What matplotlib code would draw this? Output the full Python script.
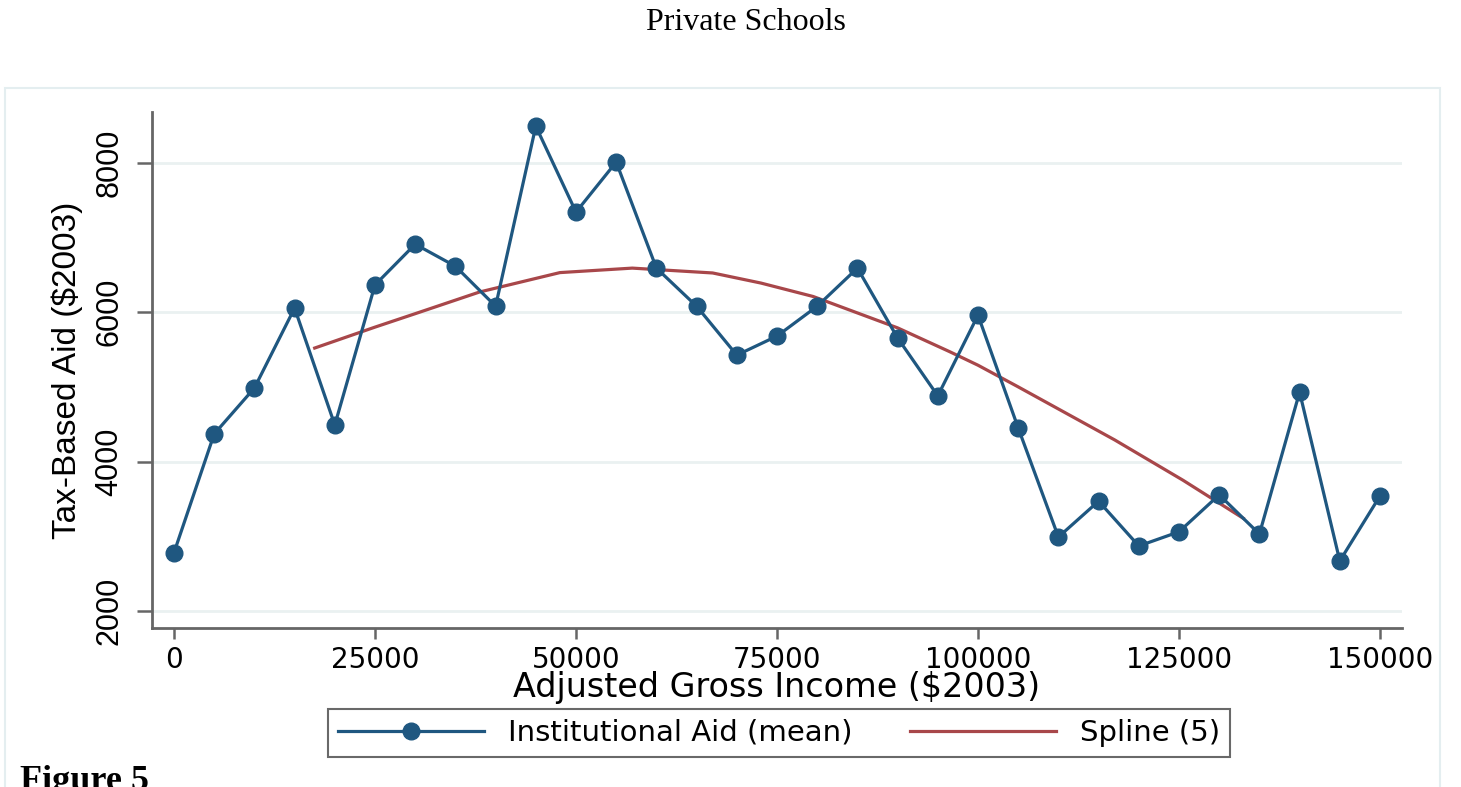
import matplotlib
matplotlib.use("Agg")
import matplotlib.pyplot as plt
from matplotlib.patches import Rectangle

# data
income = [0, 5000, 10000, 15000, 20000, 25000, 30000, 35000, 40000, 45000,
          50000, 55000, 60000, 65000, 70000, 75000, 80000, 85000, 90000, 95000,
          100000, 105000, 110000, 115000, 120000, 125000, 130000, 135000,
          140000, 145000, 150000]
aid_mean = [2780, 4370, 4985, 6055, 4490, 6365, 6910, 6615, 6080, 8490,
            7340, 8010, 6590, 6080, 5425, 5680, 6080, 6590, 5655, 4880,
            5960, 4450, 2990, 3470, 2870, 3060, 3555, 3030,
            4930, 2670, 3540]

spline_x = [17500, 25000, 30000, 38000, 48000, 57000, 67000, 73000, 79500,
            90000, 96500, 100000, 105000, 117000, 125500, 133000]
spline_y = [5520, 5800, 5980, 6270, 6530, 6590, 6525, 6390, 6210,
            5790, 5470, 5290, 5000, 4290, 3750, 3240]

x_ticks = [0, 25000, 50000, 75000, 100000, 125000, 150000]
y_ticks = [2000, 4000, 6000, 8000]

blue = '#1f5780'
red = '#a8474a'

fig = plt.figure(figsize=(14.61, 7.87), dpi=100)
fig.patch.set_facecolor('white')

# light frame around the graph region
fig.patches.append(Rectangle((5 / 1461, -0.05), 1435 / 1461, 0.05 + 1 - 88 / 787,
                             transform=fig.transFigure, fill=False,
                             edgecolor='#e4eef0', linewidth=1.5))

ax = fig.add_axes([152 / 1461, 1 - 628 / 787, 1250 / 1461, 516 / 787])
ax.plot(income, aid_mean, color=blue, linewidth=2.3, marker='o',
        markersize=12, label='Institutional Aid (mean)', zorder=3)
ax.plot(spline_x, spline_y, color=red, linewidth=2.3, label='Spline (5)', zorder=2)

ax.set_xlim(-2736, 152736)
ax.set_ylim(1772, 8680)
ax.set_xticks(x_ticks)
ax.set_yticks(y_ticks)
ax.set_xticklabels([str(v) for v in x_ticks], fontsize=20, family='DejaVu Sans')
ax.set_yticklabels([str(v) for v in y_ticks], rotation=90, va='center',
                   fontsize=22, family='Liberation Sans')
ax.tick_params(axis='y', length=11, width=1.8, color='#666666', pad=9)
ax.tick_params(axis='x', length=8, width=1.8, color='#666666', pad=5)

for s in ['top', 'right']:
    ax.spines[s].set_visible(False)
for s in ['left', 'bottom']:
    ax.spines[s].set_color('#666666')
    ax.spines[s].set_linewidth(2)

ax.grid(axis='y', color='#eaf1f1', linewidth=2)
ax.set_axisbelow(True)

ax.set_xlabel('Adjusted Gross Income ($2003)', fontsize=24, family='DejaVu Sans',
              labelpad=-2)
ax.set_ylabel('Tax-Based Aid ($2003)', fontsize=24, family='Liberation Sans',
              labelpad=8)

fig.text(746 / 1461, 1 - 22 / 787, 'Private Schools', ha='center', va='center',
         fontsize=23, family='Liberation Serif')
fig.text(20 / 1461, -3 / 787, 'Figure 5', ha='left', va='baseline',
         fontsize=26, fontweight='bold', family='Liberation Serif')

leg = fig.legend(loc='center', bbox_to_anchor=(779 / 1461, 1 - 733 / 787),
                 ncol=2, frameon=True, fancybox=False,
                 prop={'family': 'DejaVu Sans', 'size': 21},
                 handlelength=5.0, handletextpad=0.8, columnspacing=2.0,
                 borderpad=0.35, borderaxespad=0)
leg.get_frame().set_edgecolor('#444444')
leg.get_frame().set_linewidth(1.5)

fig.savefig('out.png', dpi=100)
